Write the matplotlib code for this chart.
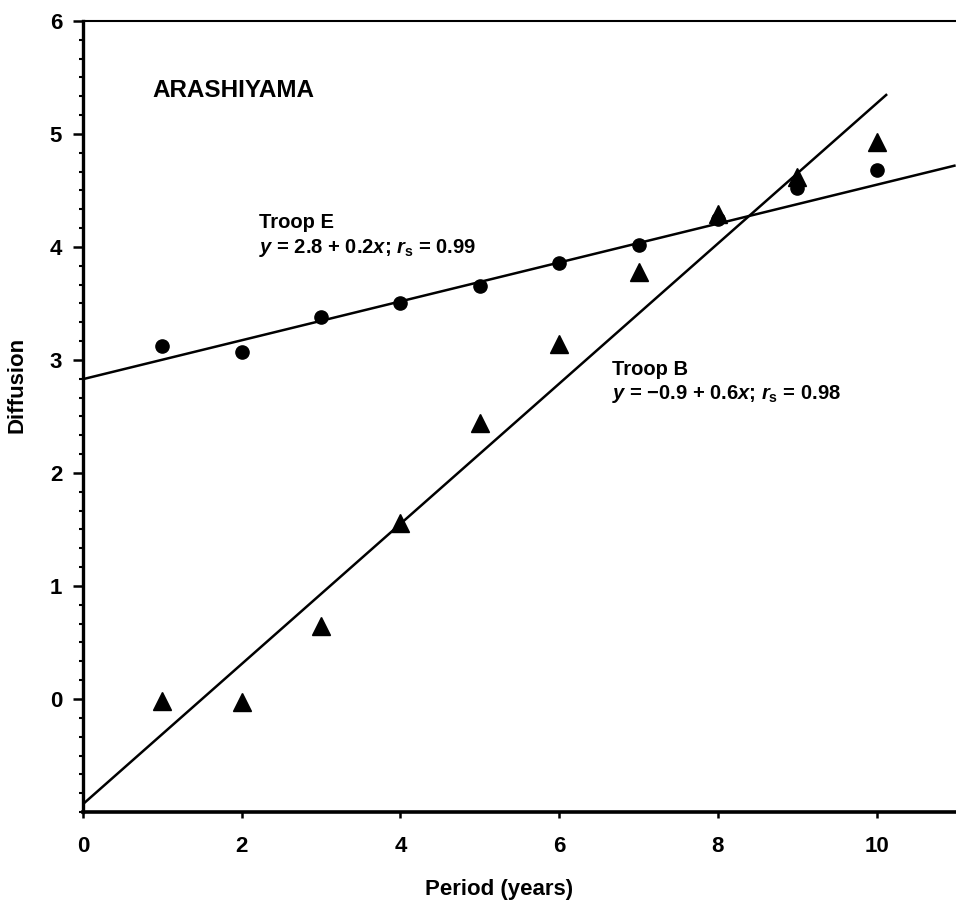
import numpy as np
import matplotlib
matplotlib.use("Agg")
import matplotlib.pyplot as plt
from matplotlib.ticker import MultipleLocator, AutoMinorLocator

# ---------------- dados ----------------
anos = [1, 2, 3, 4, 5, 6, 7, 8, 9, 10]

tropa_e = [3.12, 3.07, 3.38, 3.50, 3.65, 3.86, 4.02, 4.25, 4.52, 4.68]
tropa_b = [-0.02, -0.03, 0.65, 1.56, 2.44, 3.14, 3.78, 4.29, 4.62, 4.93]

# retas de regressao (intercepto, inclinacao)
reg_e = (2.83, 0.172)
reg_b = (-0.93, 0.62)
fim_e = 10.98
fim_b = 10.12

# ---------------- estilo ----------------
plt.rcParams["font.family"] = ["Liberation Sans", "DejaVu Sans"]
plt.rcParams["font.weight"] = "bold"
plt.rcParams["mathtext.fontset"] = "custom"
plt.rcParams["mathtext.rm"] = "Liberation Sans:bold"
plt.rcParams["mathtext.it"] = "Liberation Sans:italic:bold"
plt.rcParams["mathtext.bf"] = "Liberation Sans:bold"

fig = plt.figure(figsize=(9.56, 9.07), dpi=100)
ax = fig.add_axes([0.0868, 0.1047, 0.9132, 0.8723])

# pontos
ax.plot(anos, tropa_e, "o", color="black", ms=9.5, zorder=3)
ax.plot(anos, tropa_b, "^", color="black", ms=13, zorder=3)

# retas
xe = np.array([0, fim_e])
xb = np.array([0, fim_b])
ax.plot(xe, reg_e[0] + reg_e[1] * xe, color="black", lw=1.8, zorder=2)
ax.plot(xb, reg_b[0] + reg_b[1] * xb, color="black", lw=1.8, zorder=2)

# textos
ax.text(0.87, 5.33, "ARASHIYAMA", fontsize=17.5, fontweight="bold")
ax.text(2.22, 4.17, "Troop E", fontsize=14.5, fontweight="bold")
ax.text(2.22, 3.95, r"$y$ = 2.8 + 0.2$x$; $r_\mathrm{s}$ = 0.99",
        fontsize=14.5, fontweight="bold")
ax.text(6.66, 2.87, "Troop B", fontsize=14.5, fontweight="bold")
ax.text(6.66, 2.65, r"$y$ = $-$0.9 + 0.6$x$; $r_\mathrm{s}$ = 0.98",
        fontsize=14.5, fontweight="bold")

# eixos
ax.set_xlim(0, 11)
ax.set_ylim(-1, 6)
ax.xaxis.set_major_locator(MultipleLocator(2))
ax.yaxis.set_major_locator(MultipleLocator(1))
ax.yaxis.set_minor_locator(AutoMinorLocator(6))
ax.set_yticks([0, 1, 2, 3, 4, 5, 6])

ax.spines["right"].set_visible(False)
ax.spines["left"].set_linewidth(2.4)
ax.spines["bottom"].set_linewidth(2.6)
ax.spines["top"].set_linewidth(1.5)

ax.tick_params(axis="y", which="major", direction="out", length=7, width=1.8,
               pad=8, labelsize=16)
ax.tick_params(axis="y", which="minor", direction="out", length=3, width=1.5)
ax.tick_params(axis="x", which="major", direction="out", length=4, width=1.8,
               pad=13, labelsize=16)
for lab in ax.get_xticklabels() + ax.get_yticklabels():
    lab.set_fontweight("bold")

ax.set_xlabel("Period (years)", fontsize=16, fontweight="bold")
ax.xaxis.set_label_coords(0.477, -0.085)
ax.set_ylabel("Diffusion", fontsize=16, fontweight="bold")
ax.yaxis.set_label_coords(-0.063, 0.54)

fig.savefig("out.png", dpi=100)
